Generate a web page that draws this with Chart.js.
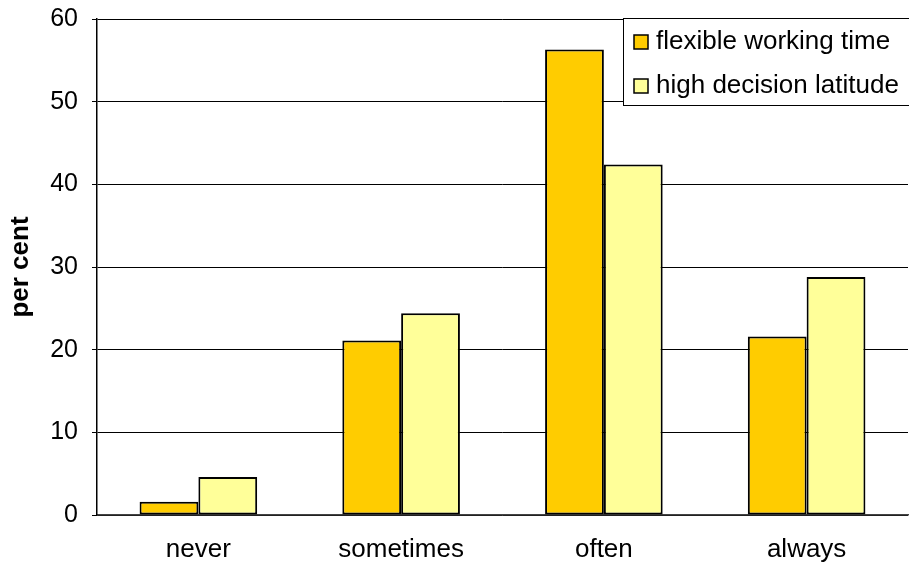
<!DOCTYPE html>
<html>
<head>
<meta charset="utf-8">
<script src="https://cdn.jsdelivr.net/npm/chart.js@4.4.1/dist/chart.umd.min.js"></script>
<style>
  html, body { margin: 0; padding: 0; background: #fff; }
  #wrap { width: 909px; height: 568px; }
</style>
</head>
<body>
<div id="wrap"><canvas id="chart" width="909" height="568"></canvas></div>
<script>
const categories = ['never', 'sometimes', 'often', 'always'];
const flexibleTime = [1.6, 21.1, 56.3, 21.6];
const highLatitude = [4.6, 24.4, 42.4, 28.8];
const seriesNames = ['flexible working time', 'high decision latitude'];
const seriesColors = ['#FFCC00', '#FFFF99'];

const FONT = 'Arial, "Liberation Sans", sans-serif';

// legend box drawn inside the plot, top right
const boxLegend = {
    id: 'boxLegend',
    afterDraw(chart) {
        const ctx = chart.ctx;
        const x = 623, y = 18, w = 300, h = 87;
        ctx.save();
        ctx.fillStyle = '#fff';
        ctx.fillRect(x, y, w, h);
        ctx.strokeStyle = '#000';
        ctx.lineWidth = 1;
        ctx.strokeRect(x + 0.5, y + 0.5, w, h);
        ctx.font = '26px ' + FONT;
        ctx.textBaseline = 'middle';
        chart.data.datasets.forEach((ds, i) => {
            const cy = y + 24 + i * 44;
            ctx.fillStyle = ds.backgroundColor;
            ctx.fillRect(634, cy - 7, 14, 14);
            ctx.strokeStyle = '#000';
            ctx.lineWidth = 1.5;
            ctx.strokeRect(634, cy - 7, 14, 14);
            ctx.fillStyle = '#000';
            ctx.fillText(ds.label, 656, cy);
        });
        ctx.restore();
    }
};

const ctx = document.getElementById('chart').getContext('2d');
new Chart(ctx, {
    type: 'bar',
    data: {
        labels: categories,
        datasets: [{
            label: seriesNames[0],
            data: flexibleTime,
            backgroundColor: seriesColors[0],
            borderColor: '#000',
            borderWidth: 2,
            borderSkipped: false
        }, {
            label: seriesNames[1],
            data: highLatitude,
            backgroundColor: seriesColors[1],
            borderColor: '#000',
            borderWidth: 2,
            borderSkipped: false
        }]
    },
    options: {
        responsive: false,
        animation: false,
        layout: { padding: { left: 0, right: 1, top: 19, bottom: 0 } },
        categoryPercentage: 0.58,
        barPercentage: 1.0,
        plugins: {
            legend: { display: false },
            tooltip: { enabled: false }
        },
        scales: {
            x: {
                grid: { display: false, drawTicks: false },
                border: { color: '#444', width: 1.5 },
                ticks: { color: '#000', font: { size: 26, family: FONT }, padding: 19 },
                afterFit(scale) {
                    scale.height = 53;
                    scale.paddingLeft = 0;
                    scale.paddingRight = 0;
                }
            },
            y: {
                min: 0,
                max: 60,
                ticks: { stepSize: 10, color: '#000', font: { size: 25, family: FONT }, padding: 14 },
                grid: { color: '#000', lineWidth: 1, tickLength: 5 },
                border: { color: '#000', width: 1.5 },
                title: {
                    display: true,
                    text: 'per cent',
                    color: '#000',
                    font: { size: 26, weight: 'bold', family: FONT },
                    padding: { top: 5, bottom: 0 }
                },
                afterFit(scale) {
                    scale.width = 97;
                    scale.paddingTop = 0;
                    scale.paddingBottom = 0;
                }
            }
        }
    },
    plugins: [boxLegend]
});
</script>
</body>
</html>
